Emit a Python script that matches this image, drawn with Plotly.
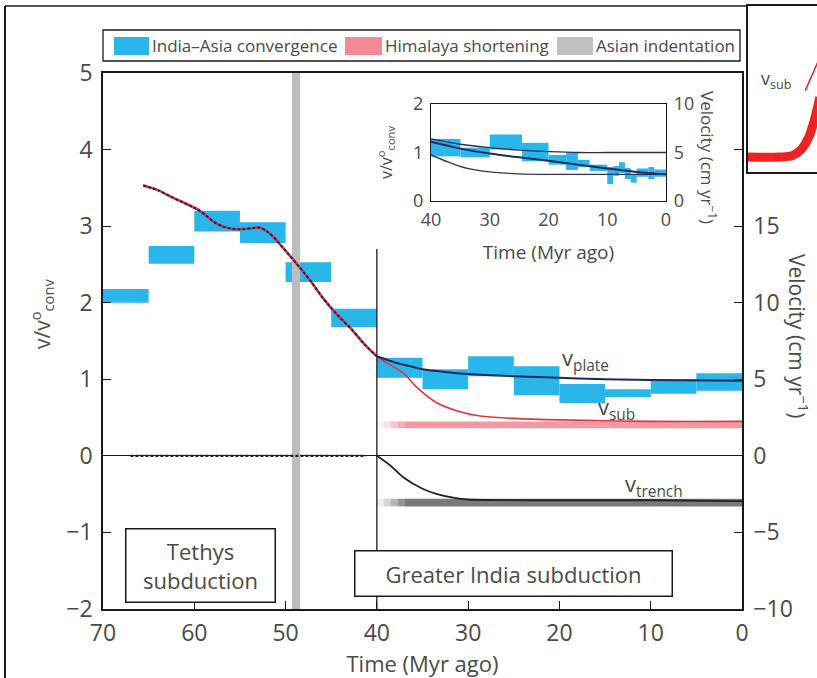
import plotly.graph_objects as go

FONT = "Open Sans"
TXT = "#4a4a4a"
AX = "#1a1a1a"

BLUE = "#29B6EA"
PINK_LEG = "#F48A97"
PINK_BAND = "#F29AA4"
GRAY_LEG = "#BFBFC4"
GRAY_BAND = "#7a7a7a"
GRAY_COLL = "#BDBDBD"
RED = "#E8303F"
NAVY = "#1B2A5E"
DARK = "#222222"

# ---------------- main panel data ----------------
conv_edges = [70, 65, 60, 55, 50, 45, 40, 35, 30, 25, 20, 15, 10, 5, 0]
conv_lo = [2.00, 2.51, 2.93, 2.78, 2.27, 1.68, 1.02, 0.87, 1.04, 0.79, 0.69, 0.77, 0.81, 0.85]
conv_hi = [2.18, 2.74, 3.20, 3.05, 2.53, 1.92, 1.28, 1.13, 1.30, 1.17, 0.94, 0.87, 1.00, 1.08]

pre_t = [65.6, 64.0, 62.3, 60.5, 59.4, 57.5, 56.1, 55.0, 53.9, 52.8, 51.7, 50.3, 48.8, 47.3, 45.9, 44.4, 42.6, 41.3, 40.0]
pre_v = [3.53, 3.47, 3.37, 3.27, 3.20, 3.03, 2.97, 2.96, 2.97, 2.98, 2.90, 2.72, 2.51, 2.29, 2.06, 1.85, 1.63, 1.45, 1.30]

plate_t = [40, 38, 36, 35, 32, 30, 25, 20, 15, 10, 0]
plate_v = [1.30, 1.22, 1.16, 1.13, 1.09, 1.07, 1.04, 1.02, 1.00, 0.99, 0.98]

sub_t = [40, 39, 38, 37, 35.5, 33.4, 31, 28.7, 25, 20, 10, 0]
sub_v = [1.30, 1.22, 1.15, 1.07, 0.88, 0.69, 0.58, 0.52, 0.49, 0.47, 0.45, 0.45]

trench_t = [40, 38.5, 37, 35, 33.4, 31.5, 30, 20, 10, 0]
trench_v = [0.0, -0.13, -0.29, -0.43, -0.50, -0.55, -0.57, -0.58, -0.58, -0.59]

tethys_trench_t = [67, 41.2]
tethys_trench_v = [0, 0]

him_lo, him_hi = 0.36, 0.45
ind_lo, ind_hi = -0.66, -0.56
band_edges = [40, 39.25, 38.5, 37.75, 37, 0]
band_alpha = [0.12, 0.3, 0.55, 0.8, 1.0]

coll_t0, coll_t1 = 49.3, 48.4
divide_t, divide_top = 40, 2.7

# ---------------- inset data ----------------
in_edges = [40, 35, 30, 24.5, 20, 17, 15, 13, 10, 9, 8, 7, 6, 5, 3, 2, 0]
in_lo = [0.92, 0.90, 1.06, 0.82, 0.75, 0.64, 0.70, 0.62, 0.35, 0.52, 0.58, 0.45, 0.38, 0.50, 0.45, 0.50]
in_hi = [1.28, 1.10, 1.37, 1.20, 0.95, 1.00, 0.85, 0.75, 0.70, 0.72, 0.80, 0.68, 0.55, 0.67, 0.70, 0.65]

in_t = [40, 35, 30, 25, 20, 15, 10, 5, 0]
in_upper = [1.28, 1.17, 1.10, 1.05, 1.02, 1.00, 1.00, 1.00, 1.00]
in_mid = [1.22, 1.08, 0.98, 0.90, 0.83, 0.75, 0.67, 0.60, 0.55]
in_lower_t = [40, 37, 34, 30, 25, 20, 10, 0]
in_lower = [0.95, 0.80, 0.68, 0.60, 0.56, 0.55, 0.55, 0.55]

# ---------------- neighbouring panel fragment ----------------
frag_x = [0.0, 0.45, 0.65, 0.78, 0.88, 0.96, 1.04]
frag_y = [0.09, 0.09, 0.10, 0.14, 0.21, 0.31, 0.45]
frag_arrow_x = [0.83, 1.02]
frag_arrow_y = [0.49, 0.67]


def blocks(edges, lo, hi):
    x = [(a + b) / 2 for a, b in zip(edges[:-1], edges[1:])]
    w = [a - b for a, b in zip(edges[:-1], edges[1:])]
    h = [b - a for a, b in zip(lo, hi)]
    return x, w, lo, h


fig = go.Figure()

# convergence blocks (main)
x, w, b, h = blocks(conv_edges, conv_lo, conv_hi)
fig.add_trace(go.Bar(x=x, y=h, base=b, width=w, marker=dict(color=BLUE, line=dict(width=0)),
                     xaxis="x", yaxis="y", hoverinfo="skip", name="India–Asia convergence"))
# collision band
fig.add_trace(go.Bar(x=[(coll_t0 + coll_t1) / 2], y=[7], base=[-2], width=[coll_t0 - coll_t1],
                     marker=dict(color=GRAY_COLL, line=dict(width=0)), xaxis="x", yaxis="y",
                     hoverinfo="skip", showlegend=False))
# himalaya shortening & asian indentation bands (with fade-in)
bx = [(a + c) / 2 for a, c in zip(band_edges[:-1], band_edges[1:])]
bw = [a - c for a, c in zip(band_edges[:-1], band_edges[1:])]
fig.add_trace(go.Bar(x=bx, y=[him_hi - him_lo] * len(bx), base=[him_lo] * len(bx), width=bw,
                     marker=dict(color=PINK_BAND, opacity=band_alpha, line=dict(width=0)),
                     xaxis="x", yaxis="y", hoverinfo="skip", name="Himalaya shortening"))
fig.add_trace(go.Bar(x=bx, y=[ind_hi - ind_lo] * len(bx), base=[ind_lo] * len(bx), width=bw,
                     marker=dict(color=GRAY_BAND, opacity=band_alpha, line=dict(width=0)),
                     xaxis="x", yaxis="y", hoverinfo="skip", name="Asian indentation"))

# divider line at 40 Myr
fig.add_trace(go.Scatter(x=[divide_t, divide_t], y=[-2, divide_top], mode="lines",
                         line=dict(color=AX, width=1.3), xaxis="x", yaxis="y", hoverinfo="skip"))
# model curves
fig.add_trace(go.Scatter(x=pre_t, y=pre_v, mode="lines", line=dict(color=RED, width=2.6, shape="spline"),
                         xaxis="x", yaxis="y", hoverinfo="skip"))
fig.add_trace(go.Scatter(x=pre_t, y=pre_v, mode="lines",
                         line=dict(color=NAVY, width=2, dash="3px,2px", shape="spline"),
                         xaxis="x", yaxis="y", hoverinfo="skip"))
fig.add_trace(go.Scatter(x=sub_t, y=sub_v, mode="lines", line=dict(color=RED, width=1.6, shape="spline"),
                         xaxis="x", yaxis="y", hoverinfo="skip"))
fig.add_trace(go.Scatter(x=plate_t, y=plate_v, mode="lines", line=dict(color=NAVY, width=2, shape="spline"),
                         xaxis="x", yaxis="y", hoverinfo="skip"))
fig.add_trace(go.Scatter(x=trench_t, y=trench_v, mode="lines", line=dict(color=DARK, width=1.8, shape="spline"),
                         xaxis="x", yaxis="y", hoverinfo="skip"))
fig.add_trace(go.Scatter(x=tethys_trench_t, y=tethys_trench_v, mode="lines",
                         line=dict(color=DARK, width=2.4, dash="3px,2px"),
                         xaxis="x", yaxis="y", hoverinfo="skip"))
# dummy on right axis (cm/yr)
fig.add_trace(go.Scatter(x=[70], y=[0], mode="markers", marker=dict(opacity=0), xaxis="x", yaxis="y2",
                         hoverinfo="skip"))

# inset
x, w, b, h = blocks(in_edges, in_lo, in_hi)
fig.add_trace(go.Bar(x=x, y=h, base=b, width=w, marker=dict(color=BLUE, line=dict(width=0)),
                     xaxis="x3", yaxis="y3", hoverinfo="skip"))
fig.add_trace(go.Scatter(x=in_t, y=in_upper, mode="lines", line=dict(color="#2a2f5a", width=1.3, shape="spline"),
                         xaxis="x3", yaxis="y3", hoverinfo="skip"))
fig.add_trace(go.Scatter(x=in_t, y=in_mid, mode="lines", line=dict(color=NAVY, width=2, shape="spline"),
                         xaxis="x3", yaxis="y3", hoverinfo="skip"))
fig.add_trace(go.Scatter(x=in_lower_t, y=in_lower, mode="lines", line=dict(color="#3b2f5e", width=1.3, shape="spline"),
                         xaxis="x3", yaxis="y3", hoverinfo="skip"))
fig.add_trace(go.Scatter(x=[40], y=[0], mode="markers", marker=dict(opacity=0), xaxis="x3", yaxis="y4",
                         hoverinfo="skip"))

# fragment of neighbouring panel
fig.add_trace(go.Scatter(x=frag_x, y=frag_y, mode="lines", line=dict(color="#EE2222", width=9, shape="spline"),
                         xaxis="x5", yaxis="y5", hoverinfo="skip"))
fig.add_trace(go.Scatter(x=frag_arrow_x, y=frag_arrow_y, mode="lines", line=dict(color="#DD2233", width=1.5),
                         xaxis="x5", yaxis="y5", hoverinfo="skip"))

tickfont = dict(family=FONT, size=23, color=TXT)
tickfont_in = dict(family=FONT, size=18, color=TXT)

fig.update_layout(
    width=817, height=678,
    margin=dict(l=0, r=0, t=0, b=0, pad=0, autoexpand=False),
    paper_bgcolor="white", plot_bgcolor="rgba(0,0,0,0)",
    barmode="overlay", showlegend=False,
    font=dict(family=FONT, color=TXT),
    xaxis=dict(domain=[103 / 817, 742 / 817], range=[70, 0], tickvals=[70, 60, 50, 40, 30, 20, 10, 0],
               ticks="inside", ticklen=8, tickcolor=AX, showline=True, linecolor=AX, linewidth=1.5,
               mirror=True, showgrid=False, zeroline=False, tickfont=tickfont, ticklabelstandoff=3,
               automargin=False,
               title=dict(text="Time (Myr ago)", font=dict(family=FONT, size=22, color=TXT), standoff=16),
               anchor="y"),
    yaxis=dict(domain=[1 - 609 / 678, 1 - 73 / 678], range=[-2, 5], dtick=1, ticks="inside", ticklen=8,
               tickcolor=AX, showline=True, linecolor=AX, linewidth=1.5, showgrid=False, automargin=False,
               zeroline=True, zerolinecolor=AX, zerolinewidth=1.3, tickfont=tickfont, ticklabelstandoff=4,
               tickformat="d", anchor="x"),
    yaxis2=dict(overlaying="y", side="right", range=[-10, 25], tickvals=[-10, -5, 0, 5, 10, 15, 20],
                ticktext=["−10", "−5", "0", "5", "10", "15", ""], ticks="inside", ticklen=8, tickcolor=AX,
                showline=True, linecolor=AX, linewidth=1.5, showgrid=False, zeroline=False, automargin=False,
                tickfont=tickfont, ticklabelstandoff=5, anchor="x"),
    xaxis3=dict(domain=[431 / 817, 666 / 817], range=[40, 0], tickvals=[40, 30, 20, 10, 0], ticks="",
                showline=True, linecolor=AX, linewidth=1.3, mirror=True, showgrid=False, zeroline=False,
                tickfont=tickfont_in, ticklabelstandoff=2, anchor="y3", automargin=False,
                title=dict(text="Time (Myr ago)", font=dict(family=FONT, size=19, color=TXT), standoff=15)),
    yaxis3=dict(domain=[1 - 201 / 678, 1 - 104 / 678], range=[0, 2], dtick=1, ticks="", showline=True,
                linecolor=AX, linewidth=1.3, showgrid=False, zeroline=False, tickfont=tickfont_in,
                ticklabelstandoff=3, anchor="x3", automargin=False,
                title=dict(text="v/v<sup>o</sup><sub>conv</sub>", font=dict(family=FONT, size=16, color=TXT),
                           standoff=16)),
    yaxis4=dict(overlaying="y3", side="right", range=[0, 10], dtick=5, ticks="", showline=True,
                linecolor=AX, linewidth=1.3, showgrid=False, zeroline=False, tickfont=tickfont_in,
                ticklabelstandoff=3, anchor="x3", automargin=False),
    xaxis5=dict(domain=[748 / 817, 1.0], range=[0, 1], showline=True, mirror=True, linecolor=AX, linewidth=1.5,
                showticklabels=False, ticks="", showgrid=False, zeroline=False, anchor="y5", automargin=False),
    yaxis5=dict(domain=[1 - 172 / 678, 1 - 6 / 678], range=[0, 1], showline=True, linecolor=AX, linewidth=1.5,
                showticklabels=False, ticks="", showgrid=False, zeroline=False, anchor="x5", automargin=False),
)

# legend (drawn as swatches + text)
leg_items = [("India–Asia convergence", BLUE, 114, 149), ("Himalaya shortening", PINK_LEG, 345, 382),
             ("Asian indentation", GRAY_LEG, 557, 593)]
fig.add_shape(type="rect", xref="paper", yref="paper", x0=103 / 817, x1=740 / 817, y0=1 - 61 / 678,
              y1=1 - 30 / 678, line=dict(color=AX, width=1.3), fillcolor="white")
for label, col, px0, px1 in leg_items:
    fig.add_shape(type="rect", xref="paper", yref="paper", x0=px0 / 817, x1=px1 / 817, y0=1 - 55 / 678,
                  y1=1 - 37 / 678, line=dict(width=0), fillcolor=col)
    fig.add_annotation(x=(px1 + 1) / 817, y=1 - 46 / 678, xref="paper", yref="paper", text=label,
                       showarrow=False, xanchor="left", yanchor="middle",
                       font=dict(family=FONT, size=17, color=TXT))

# outer panel frame
fig.add_shape(type="line", xref="paper", yref="paper", x0=5 / 817, x1=5 / 817, y0=0, y1=1 - 6 / 678,
              line=dict(color=AX, width=2))
fig.add_shape(type="line", xref="paper", yref="paper", x0=5 / 817, x1=748 / 817, y0=1 - 6 / 678, y1=1 - 6 / 678,
              line=dict(color=AX, width=1.5))

# curve labels
fig.add_annotation(x=17.1, y=1.27, xref="x", yref="y", text="v<sub>plate</sub>", showarrow=False,
                   font=dict(family=FONT, size=22, color=TXT))
fig.add_annotation(x=13.8, y=0.63, xref="x", yref="y", text="v<sub>sub</sub>", showarrow=False,
                   font=dict(family=FONT, size=22, color=TXT))
fig.add_annotation(x=9.6, y=-0.38, xref="x", yref="y", text="v<sub>trench</sub>", showarrow=False,
                   font=dict(family=FONT, size=22, color=TXT))

# boxed phase labels
fig.add_annotation(x=59.3, y=-1.43, xref="x", yref="y", text="Tethys<br>subduction", showarrow=False,
                   font=dict(family=FONT, size=22, color=TXT), bordercolor=AX, borderwidth=1.5,
                   bgcolor="white", width=146, height=70)
fig.add_annotation(x=25.0, y=-1.54, xref="x", yref="y", text="Greater India subduction", showarrow=False,
                   font=dict(family=FONT, size=22, color=TXT), bordercolor=AX, borderwidth=1.5,
                   bgcolor="white", width=314, height=42)

# axis titles drawn as rotated text
fig.add_annotation(x=41 / 817, y=1 - 314 / 678, xref="paper", yref="paper", xanchor="center", yanchor="middle",
                   text="v/v<sup>o</sup><sub>conv</sub>", textangle=-90, showarrow=False,
                   font=dict(family=FONT, size=21, color=TXT))
fig.add_annotation(x=799 / 817, y=1 - 336 / 678, xref="paper", yref="paper", xanchor="center", yanchor="middle",
                   text="Velocity (cm yr<sup>−1</sup>)", textangle=90, showarrow=False,
                   font=dict(family=FONT, size=21, color=TXT))
fig.add_annotation(x=709 / 817, y=1 - 157 / 678, xref="paper", yref="paper", xanchor="center", yanchor="middle",
                   text="Velocity (cm yr<sup>−1</sup>)", textangle=90, showarrow=False,
                   font=dict(family=FONT, size=17, color=TXT))

# fragment label
fig.add_annotation(x=0.40, y=0.56, xref="x5", yref="y5", text="v<sub>sub</sub>", showarrow=False,
                   font=dict(family=FONT, size=18, color=TXT))

fig.write_html("out.html", post_script="document.body.style.margin='0px';",
               config={"displayModeBar": False})
